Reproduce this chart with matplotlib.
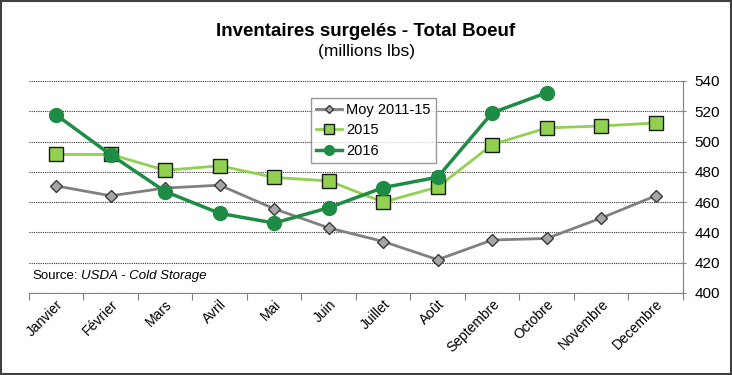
import numpy as np
import matplotlib.pyplot as plt

mois = ['Janvier', 'Février', 'Mars', 'Avril', 'Mai', 'Juin', 'Juillet',
        'Août', 'Septembre', 'Octobre', 'Novembre', 'Decembre']
moy_2011_15 = [470.7, 464.2, 469.3, 471.2, 455.6, 443.0, 434.0, 422.0, 435.0, 436.0, 449.5, 464.2]
serie_2015 = [491.5, 491.5, 481.0, 484.0, 476.3, 474.0, 460.0, 470.0, 498.0, 509.0, 510.3, 512.3]
serie_2016 = [517.6, 491.3, 467.0, 452.6, 446.2, 456.3, 469.6, 476.5, 519.0, 532.3]

plt.rcParams['font.family'] = ['Liberation Sans', 'DejaVu Sans']

fig = plt.figure(figsize=(7.32, 3.75), dpi=100)
ax = fig.add_axes([0.0396, 0.2187, 0.8934, 0.5653])

x = np.arange(len(mois))
ax.plot(x, moy_2011_15, color='#808080', lw=2, marker='D', ms=6,
        mfc='#a6a6a6', mec='#3a3a3a', mew=1, label='Moy 2011-15', zorder=3)
ax.plot(x, serie_2015, color='#92d050', lw=2, marker='s', ms=10,
        mfc='#92d050', mec='#1a1a1a', mew=1, label='2015', zorder=4)
ax.plot(np.arange(len(serie_2016)), serie_2016, color='#1e8c45', lw=2.5, marker='o', ms=10,
        mfc='#1e8c45', mec='#1e8c45', label='2016', zorder=5)

ax.set_xlim(-0.5, len(mois) - 0.5)
ax.set_ylim(400, 540)
ax.set_yticks(np.arange(400, 541, 20))
ax.yaxis.tick_right()
ax.tick_params(axis='y', labelsize=11, length=5, direction='inout', color='#808080', pad=6)
ax.set_xticks(np.arange(-0.5, len(mois), 1), minor=False, labels=[''] * (len(mois) + 1))
ax.set_xticks(x, minor=True, labels=mois)
ax.tick_params(axis='x', which='major', length=5, direction='out', color='#808080')
ax.tick_params(axis='x', which='minor', length=0, labelsize=10, pad=3)
for lbl in ax.get_xticklabels(minor=True):
    lbl.set_rotation(45)
    lbl.set_ha('right')
    lbl.set_rotation_mode('anchor')

ax.grid(axis='y', color='#333333', ls=(0, (1, 1)), lw=0.8)
for s in ['top', 'left']:
    ax.spines[s].set_visible(False)
ax.spines['right'].set_color('#808080')
ax.spines['bottom'].set_color('#808080')

leg = ax.legend(loc='upper left', bbox_to_anchor=(0.42, 0.955), fontsize=10.5,
                frameon=True, fancybox=False, edgecolor='#808080', markerscale=0.7,
                handlelength=1.8, handletextpad=0.25, labelspacing=0.45, borderpad=0.35)
leg.get_frame().set_linewidth(1)

fig.text(0.5, 0.905, 'Inventaires surgelés - Total Boeuf', ha='center', fontsize=13.5, fontweight='bold')
fig.text(0.5, 0.85, '(millions lbs)', ha='center', fontsize=12.5)
src = fig.text(0.044, 0.255, 'Source:', fontsize=9.5)
ax.annotate('USDA - Cold Storage', xy=(1, 0), xycoords=src, xytext=(2.5, 0),
            textcoords='offset points', fontsize=9.5, style='italic', va='bottom')

fig.patches.append(plt.Rectangle((0.001, 0.002), 0.997, 0.995, transform=fig.transFigure,
                                 fill=False, edgecolor='#404040', lw=1.5))

fig.savefig('out.png', dpi=100)
